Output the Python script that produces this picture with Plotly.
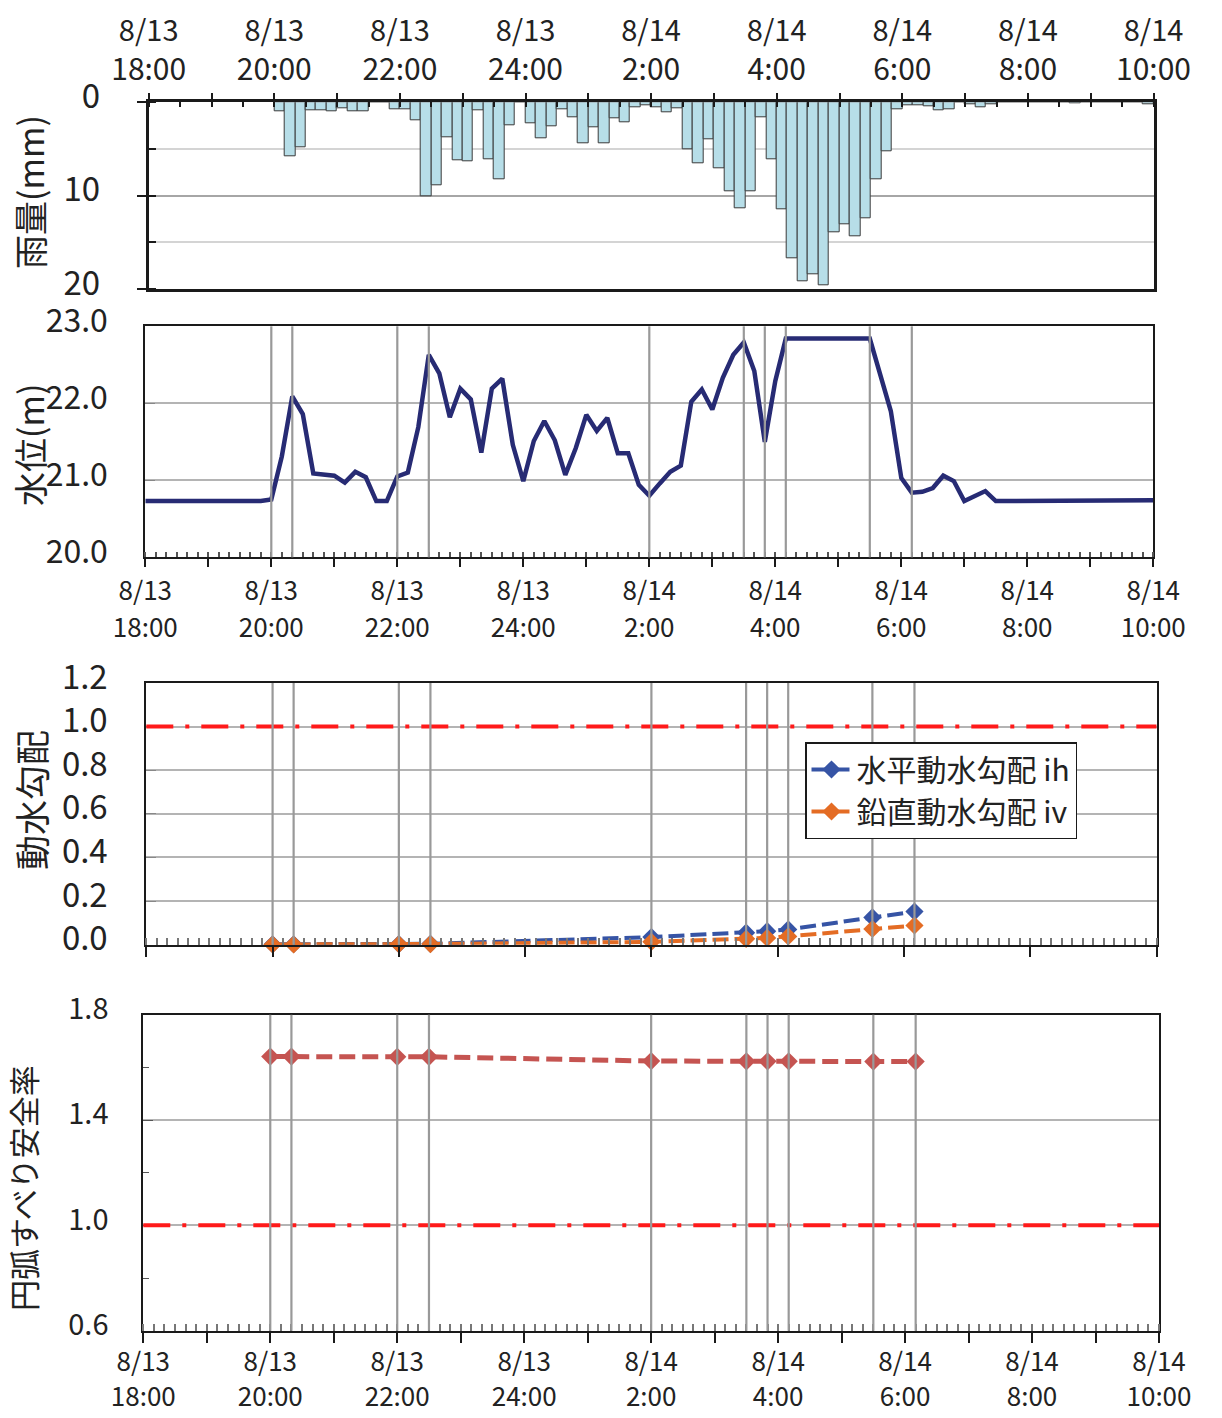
import plotly.graph_objects as go

W, H = 1222, 1418
FONT = "Noto Sans CJK JP, Noto Sans, sans-serif"
TXT = "#222222"

# ---------------- data ----------------
tick_dates = ["8/13", "8/13", "8/13", "8/13", "8/14", "8/14", "8/14", "8/14", "8/14"]
tick_times = ["18:00", "20:00", "22:00", "24:00", "2:00", "4:00", "6:00", "8:00", "10:00"]

# 10-minute rainfall (mm), first interval starts 8/13 20:00
rain_start = "8/13 20:00"
rain_step_min = 10
rain_mm = [
    1.0, 5.8, 4.8, 0.85, 0.85, 1.0, 0.6, 1.0, 1.0, 0.0, 0.0, 0.8,      # 20:00-21:50
    0.7, 1.9, 10.1, 8.9, 3.8, 6.2, 6.3, 0.85, 6.1, 8.3, 2.5, 0.0,      # 22:00-23:50
    2.3, 3.9, 2.6, 0.7, 1.6, 4.4, 2.7, 4.4, 1.7, 2.1, 0.5, 0.3,        # 0:00-1:50
    0.5, 1.1, 0.6, 5.0, 6.5, 4.0, 7.1, 9.5, 11.4, 9.5, 1.6, 6.1,       # 2:00-3:50
    11.5, 16.7, 19.2, 18.4, 19.6, 13.9, 13.1, 14.4, 12.4, 8.3, 5.2, 0.8,  # 4:00-5:50
    0.35, 0.35, 0.4, 0.9, 0.7, 0.0, 0.25, 0.5, 0.2, 0.0, 0.0, 0.0,     # 6:00-7:50
    0.0, 0.0, 0.0, 0.0, 0.1, 0.0, 0.0, 0.0, 0.0, 0.0, 0.0, 0.2,        # 8:00-9:50
]

# water level (m) every 10 minutes from 8/13 18:00 to 8/14 10:00
level_start = "8/13 18:00"
level_step_min = 10
water_level_m = [
    20.73, 20.73, 20.73, 20.73, 20.73, 20.73, 20.73, 20.73, 20.73, 20.73, 20.73, 20.73,  # 18:00-19:50
    20.75, 21.31, 22.09, 21.86, 21.09, 21.07, 21.06, 20.97, 21.11, 21.04, 20.73, 20.73,  # 20:00-21:50
    21.05, 21.10, 21.69, 22.63, 22.39, 21.82, 22.19, 22.05, 21.36, 22.19, 22.32, 21.46,  # 22:00-23:50
    20.99, 21.51, 21.77, 21.52, 21.07, 21.42, 21.85, 21.64, 21.81, 21.35, 21.35, 20.94,  # 0:00-1:50
    20.80, 20.96, 21.11, 21.19, 22.02, 22.18, 21.92, 22.33, 22.63, 22.79, 22.42, 21.50,  # 2:00-3:50
    22.29, 22.84, 22.84, 22.84, 22.84, 22.84, 22.84, 22.84, 22.84, 22.84, 22.37, 21.90,  # 4:00-5:50
    21.03, 20.84, 20.85, 20.90, 21.06, 20.99, 20.73, 20.79, 20.86, 20.73, 20.73, 20.73,  # 6:00-7:50
    20.73, 20.73, 20.73, 20.73, 20.73, 20.73, 20.73, 20.73, 20.73, 20.73, 20.73, 20.73,  # 8:00-9:50
    20.74,                                                                              # 10:00
]

# analysis time steps
event_times = ["8/13 20:00", "8/13 20:20", "8/13 22:00", "8/13 22:30", "8/14 2:00",
               "8/14 3:30", "8/14 3:50", "8/14 4:10", "8/14 5:30", "8/14 6:10"]
grad_ih = [0.002, 0.002, 0.003, 0.004, 0.035, 0.055, 0.062, 0.070, 0.125, 0.152]
grad_iv = [0.001, 0.001, 0.002, 0.003, 0.013, 0.027, 0.031, 0.038, 0.072, 0.088]
safety_fs = [1.641, 1.641, 1.640, 1.640, 1.624, 1.623, 1.623, 1.623, 1.622, 1.622]

grad_limit = 1.0
fs_limit = 1.0


# ---------------- helpers ----------------
def hours(label):
    """'8/14 2:00' -> hours after 8/13 18:00"""
    d, t = label.split()
    day = int(d.split("/")[1])
    hh, mm = map(int, t.split(":"))
    return (day - 13) * 24 + hh + mm / 60 - 18


rain_x = [hours(rain_start) + i * rain_step_min / 60 for i in range(len(rain_mm))]
level_x = [hours(level_start) + i * level_step_min / 60 for i in range(len(water_level_m))]
event_x = [hours(t) for t in event_times]
label_x = [hours(d + " " + t) for d, t in zip(tick_dates, tick_times)]
time_text = {round(x, 3): t for x, t in zip(label_x, tick_times)}
hour_vals = list(range(int(label_x[0]), int(label_x[-1]) + 1))
hour_text = [time_text.get(round(float(h), 3), "") for h in hour_vals]
x_range = [label_x[0], label_x[-1]]


def xdom(l, r):
    return [l / W, r / W]


def ydom(top, bottom):
    return [1 - bottom / H, 1 - top / H]


fig = go.Figure()

fig.add_trace(go.Bar(
    x=rain_x, y=rain_mm, width=rain_step_min / 60, offset=0,
    marker=dict(color="#B7DEE8", line=dict(color="#3a3a3a", width=1)),
    xaxis="x", yaxis="y", showlegend=False, name="雨量",
))

fig.add_trace(go.Scatter(
    x=level_x, y=water_level_m, mode="lines",
    line=dict(color="#272B74", width=4.5),
    xaxis="x2", yaxis="y2", showlegend=False, name="水位",
))

fig.add_trace(go.Scatter(
    x=event_x, y=grad_ih, mode="lines+markers", name="水平動水勾配 ih",
    line=dict(color="#3654A5", width=4, dash="16px,6px"),
    marker=dict(symbol="diamond", size=14, color="#3654A5"),
    xaxis="x3", yaxis="y3", cliponaxis=False,
))
fig.add_trace(go.Scatter(
    x=event_x, y=grad_iv, mode="lines+markers", name="鉛直動水勾配 iv",
    line=dict(color="#E46C24", width=4, dash="16px,6px"),
    marker=dict(symbol="diamond", size=14, color="#E46C24"),
    xaxis="x3", yaxis="y3", cliponaxis=False,
))

fig.add_trace(go.Scatter(
    x=event_x, y=safety_fs, mode="lines+markers", name="円弧すべり安全率",
    line=dict(color="#C55451", width=5, dash="16px,7px"),
    marker=dict(symbol="diamond", size=14, color="#C55451"),
    xaxis="x4", yaxis="y4", cliponaxis=False, showlegend=False,
))

# empty traces so the date-row axes are created
for xa, ya in (("x5", "y"), ("x6", "y2"), ("x7", "y4")):
    fig.add_trace(go.Scatter(x=[], y=[], xaxis=xa, yaxis=ya, showlegend=False, hoverinfo="skip"))

# reference lines (dash-dot red)
RED_DASH = "27px,12px,4px,12px"
shapes = [
    dict(type="line", xref="x3 domain", yref="y3", x0=0, x1=1, y0=grad_limit, y1=grad_limit,
         line=dict(color="#FF1A1A", width=4, dash=RED_DASH)),
    dict(type="line", xref="x4 domain", yref="y4", x0=0, x1=1, y0=fs_limit, y1=fs_limit,
         line=dict(color="#FF1A1A", width=4, dash=RED_DASH)),
]
for ax in ("2", "3", "4"):
    for ex in event_x:
        shapes.append(dict(type="line", xref="x" + ax, yref="y" + ax + " domain",
                           x0=ex, x1=ex, y0=0, y1=1,
                           line=dict(color="#999999", width=2.2)))

common_x = dict(range=x_range, tickmode="array", tickvals=hour_vals, ticktext=hour_text,
                showgrid=False, zeroline=False, showline=True, mirror=True, automargin=False,
                linecolor="#1a1a1a", tickcolor="#1a1a1a", tickwidth=1.5)
date_x = dict(range=x_range, tickmode="array", tickvals=label_x, ticktext=tick_dates,
              ticks="", showline=False, showgrid=False, zeroline=False, automargin=False)

fig.update_layout(
    width=W, height=H, margin=dict(l=0, r=0, t=0, b=0, pad=0, autoexpand=False),
    paper_bgcolor="white", plot_bgcolor="white",
    font=dict(family=FONT, color=TXT),
    bargap=0,
    # panel 1: rainfall
    xaxis=dict(common_x, domain=xdom(140.7, 1145.5), anchor="y", side="top",
               ticks="outside", ticklen=6, linewidth=3,
               minor=dict(dtick=0.5, tick0=0, ticks="inside", ticklen=5, tickcolor="#1a1a1a"),
               tickfont=dict(size=30, color=TXT), ticklabelstandoff=1),
    xaxis5=dict(date_x, overlaying="x", anchor="y", side="top",
                tickfont=dict(size=29, color=TXT), ticklabelstandoff=55),
    yaxis=dict(domain=ydom(94.3, 281), anchor="x", range=[20, 0], tickvals=[0, 10, 20],
               ticks="outside", ticklen=9, tickcolor="#1a1a1a", tickwidth=1.5, automargin=False,
               showline=True, mirror=True, linecolor="#1a1a1a", linewidth=3,
               showgrid=True, gridcolor="#A6A6A6", gridwidth=1.5, zeroline=False,
               minor=dict(dtick=5, ticks="inside", ticklen=7, tickcolor="#1a1a1a",
                          showgrid=True, gridcolor="#D4D4D4", gridwidth=1.5),
               tickfont=dict(size=33, color=TXT), ticklabelstandoff=30, ticklabelshift=6),
    # panel 2: water level
    xaxis2=dict(common_x, domain=xdom(137.3, 1145.3), anchor="y2",
                ticks="outside", ticklen=8, linewidth=2,
                minor=dict(dtick=1 / 6, tick0=0, ticks="inside", ticklen=5, tickcolor="#555"),
                tickfont=dict(size=26, color=TXT), ticklabelstandoff=38),
    xaxis6=dict(date_x, overlaying="x2", anchor="y2", side="bottom",
                tickfont=dict(size=26, color=TXT), ticklabelstandoff=16),
    yaxis2=dict(domain=ydom(318.3, 549.3), anchor="x2", range=[20, 23], dtick=1, tickformat=".1f",
                ticks="inside", ticklen=10, tickcolor="#888", automargin=False,
                showline=True, mirror=True, linecolor="#1a1a1a", linewidth=2,
                showgrid=True, gridcolor="#B4B4B4", gridwidth=1.5, zeroline=False,
                tickfont=dict(size=32, color=TXT), ticklabelstandoff=29, ticklabelshift=-6),
    # panel 3: hydraulic gradient
    xaxis3=dict(common_x, domain=xdom(138.3, 1148.5), anchor="y3", showticklabels=False,
                ticks="outside", ticklen=10, linewidth=2,
                minor=dict(dtick=1 / 6, tick0=0, ticks="inside", ticklen=7, tickcolor="#777")),
    yaxis3=dict(domain=ydom(675, 936.7), anchor="x3", range=[0, 1.2], dtick=0.2, tickformat=".1f",
                ticks="inside", ticklen=10, tickcolor="#888", automargin=False,
                showline=True, mirror=True, linecolor="#1a1a1a", linewidth=2,
                showgrid=True, gridcolor="#B4B4B4", gridwidth=1.5, zeroline=False,
                tickfont=dict(size=33, color=TXT), ticklabelstandoff=30, ticklabelshift=-6),
    # panel 4: safety factor
    xaxis4=dict(common_x, domain=xdom(135.3, 1151), anchor="y4",
                ticks="outside", ticklen=10, linewidth=2,
                minor=dict(dtick=1 / 6, tick0=0, ticks="inside", ticklen=7, tickcolor="#777"),
                tickfont=dict(size=26, color=TXT), ticklabelstandoff=32),
    xaxis7=dict(date_x, overlaying="x4", anchor="y4", side="bottom",
                tickfont=dict(size=26, color=TXT), ticklabelstandoff=13),
    yaxis4=dict(domain=ydom(1006.7, 1322.7), anchor="x4", range=[0.6, 1.8],
                tickvals=[0.6, 1.0, 1.4, 1.8], ticktext=["0.6", "1.0", "1.4", "1.8"],
                ticks="inside", ticklen=10, tickcolor="#555", automargin=False,
                showline=True, mirror=True, linecolor="#1a1a1a", linewidth=2,
                showgrid=True, gridcolor="#B4B4B4", gridwidth=1.5, zeroline=False,
                minor=dict(dtick=0.2, tick0=0.6, ticks="inside", ticklen=6, tickcolor="#555", showgrid=False),
                tickfont=dict(size=29, color=TXT), ticklabelstandoff=27, ticklabelshift=-6),
    legend=dict(x=797 / W, y=1 - 734 / H, xanchor="left", yanchor="top",
                bgcolor="white", bordercolor="#1a1a1a", borderwidth=1.5,
                font=dict(size=30, color=TXT, family=FONT), tracegroupgap=0,
                itemwidth=40),
    shapes=shapes,
)

titles = [
    ("雨量(mm)", 21, 184, 34),
    ("水位(m)", 21, 437, 34),
    ("動水勾配", 22, 792, 35),
    ("円弧すべり安全率", 14, 1180, 31),
]
for text, px, py, size in titles:
    fig.add_annotation(text=text, xref="paper", yref="paper", x=px / W, y=1 - py / H,
                       xanchor="center", yanchor="middle", textangle=-90, showarrow=False,
                       font=dict(size=size, color=TXT, family=FONT))

fig.write_html("out.html")
